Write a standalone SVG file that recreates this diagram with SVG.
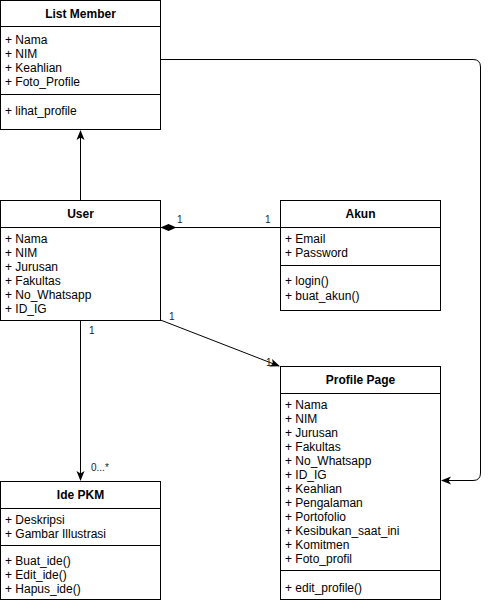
<svg xmlns="http://www.w3.org/2000/svg" width="490" height="604" viewBox="0 0 490 604">
  <style>
    .box { fill: #ffffff; stroke: #000000; stroke-width: 1; }
    .sep { stroke: #000000; stroke-width: 1; }
    .title { font-family: "Liberation Sans", Arial, sans-serif; font-size: 12px; font-weight: bold; fill: #000000; text-anchor: middle; }
    .item { font-family: "Liberation Sans", Arial, sans-serif; font-size: 12px; fill: #000000; }
    .edge { fill: none; stroke: #000000; stroke-width: 1; }
    .mult { font-family: "Liberation Sans", Arial, sans-serif; font-size: 10px; fill: #222222; }
  </style>
  <defs>
    <!-- filled open-notch arrowhead -->
    <marker id="arrow" viewBox="0 0 10 10" refX="9" refY="5" markerWidth="10" markerHeight="10" markerUnits="userSpaceOnUse" orient="auto">
      <path d="M0,1 L10,5 L0,9 L2.5,5 Z" fill="#000000"/>
    </marker>
    <!-- filled diamond for composition -->
    <marker id="diamond" viewBox="0 0 16 8" refX="16" refY="4" markerWidth="16" markerHeight="8" markerUnits="userSpaceOnUse" orient="auto">
      <path d="M0,4 L8,0.5 L16,4 L8,7.5 Z" fill="#000000"/>
    </marker>
  </defs>

  <!-- connectors -->
  <g id="connectors">
    <path class="edge" d="M80.5,200 L80.5,131" marker-end="url(#arrow)"/>
    <path class="edge" d="M280,227.5 L160.5,227.5" marker-end="url(#diamond)"/>
    <path class="edge" d="M160.5,320 L279,366" marker-end="url(#arrow)"/>
    <path class="edge" d="M80.5,320 L80.5,480" marker-end="url(#arrow)"/>
    <path class="edge" d="M160.5,59.5 L473,59.5 Q480.5,59.5 480.5,67 L480.5,473 Q480.5,480.5 473,480.5 L442,480.5" marker-end="url(#arrow)"/>
    <text class="mult" x="177" y="223">1</text>
    <text class="mult" x="265" y="223">1</text>
    <text class="mult" x="169" y="320">1</text>
    <text class="mult" x="266" y="366">1</text>
    <text class="mult" x="89" y="334">1</text>
    <text class="mult" x="91" y="471">0...*</text>
  </g>

  <!-- List Member -->
  <g id="list-member">
    <rect class="box" x="0.5" y="0.5" width="160" height="129"/>
    <line class="sep" x1="0.5" y1="26.5" x2="160.5" y2="26.5"/>
    <line class="sep" x1="0.5" y1="94.5" x2="160.5" y2="94.5"/>
    <text class="title" x="80.5" y="18">List Member</text>
    <text class="item" x="5" y="44">+ Nama</text>
    <text class="item" x="5" y="58">+ NIM</text>
    <text class="item" x="5" y="72">+ Keahlian</text>
    <text class="item" x="5" y="86">+ Foto_Profile</text>
    <text class="item" x="5" y="115">+ lihat_profile</text>
  </g>

  <!-- User -->
  <g id="user">
    <rect class="box" x="0.5" y="200.5" width="160" height="120"/>
    <line class="sep" x1="0.5" y1="227.5" x2="160.5" y2="227.5"/>
    <text class="title" x="80.5" y="218">User</text>
    <text class="item" x="5" y="243">+ Nama</text>
    <text class="item" x="5" y="257">+ NIM</text>
    <text class="item" x="5" y="271">+ Jurusan</text>
    <text class="item" x="5" y="285">+ Fakultas</text>
    <text class="item" x="5" y="299">+ No_Whatsapp</text>
    <text class="item" x="5" y="313">+ ID_IG</text>
  </g>

  <!-- Akun -->
  <g id="akun">
    <rect class="box" x="280.5" y="200.5" width="160" height="110"/>
    <line class="sep" x1="280.5" y1="227.5" x2="440.5" y2="227.5"/>
    <line class="sep" x1="280.5" y1="265.5" x2="440.5" y2="265.5"/>
    <text class="title" x="360.5" y="218">Akun</text>
    <text class="item" x="285" y="243">+ Email</text>
    <text class="item" x="285" y="257">+ Password</text>
    <text class="item" x="285" y="285">+ login()</text>
    <text class="item" x="285" y="300">+ buat_akun()</text>
  </g>

  <!-- Profile Page -->
  <g id="profile-page">
    <rect class="box" x="280.5" y="366.5" width="160" height="233"/>
    <line class="sep" x1="280.5" y1="393.5" x2="440.5" y2="393.5"/>
    <line class="sep" x1="280.5" y1="570.5" x2="440.5" y2="570.5"/>
    <text class="title" x="360.5" y="384">Profile Page</text>
    <text class="item" x="285" y="409">+ Nama</text>
    <text class="item" x="285" y="423">+ NIM</text>
    <text class="item" x="285" y="437">+ Jurusan</text>
    <text class="item" x="285" y="451">+ Fakultas</text>
    <text class="item" x="285" y="465">+ No_Whatsapp</text>
    <text class="item" x="285" y="479">+ ID_IG</text>
    <text class="item" x="285" y="493">+ Keahlian</text>
    <text class="item" x="285" y="507">+ Pengalaman</text>
    <text class="item" x="285" y="521">+ Portofolio</text>
    <text class="item" x="285" y="535">+ Kesibukan_saat_ini</text>
    <text class="item" x="285" y="549">+ Komitmen</text>
    <text class="item" x="285" y="563">+ Foto_profil</text>
    <text class="item" x="285" y="592">+ edit_profile()</text>
  </g>

  <!-- Ide PKM -->
  <g id="ide-pkm">
    <rect class="box" x="0.5" y="481.5" width="160" height="118"/>
    <line class="sep" x1="0.5" y1="508.5" x2="160.5" y2="508.5"/>
    <line class="sep" x1="0.5" y1="545.5" x2="160.5" y2="545.5"/>
    <text class="title" x="80.5" y="499">Ide PKM</text>
    <text class="item" x="5" y="524">+ Deskripsi</text>
    <text class="item" x="5" y="538">+ Gambar Illustrasi</text>
    <text class="item" x="5" y="565">+ Buat_ide()</text>
    <text class="item" x="5" y="579">+ Edit_ide()</text>
    <text class="item" x="5" y="593">+ Hapus_ide()</text>
  </g>
</svg>
